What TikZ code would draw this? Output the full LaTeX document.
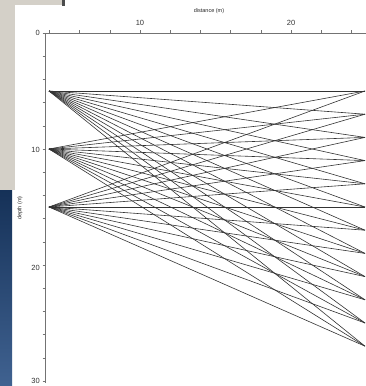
\documentclass[tikz,border=0pt]{standalone}
\usepackage{fontspec}
\setmainfont{Liberation Sans}
\begin{document}
\begin{tikzpicture}[x=1pt,y=-1pt,
  ray/.style={black!80,line width=0.6pt},
  axisline/.style={black!55,line width=0.9pt},
  tick/.style={black!55,line width=0.5pt},
  ticklbl/.style={font=\fontsize{7.5}{9}\selectfont,inner sep=1pt,text=black!80},
  axlbl/.style={font=\fontsize{5.5}{6}\selectfont,inner sep=0pt,text=black!85}]
\definecolor{wingray}{RGB}{212,208,200}
\definecolor{deskblue}{RGB}{30,70,125}
\useasboundingbox (0,0) rectangle (366,386);
\fill[white] (0,0) rectangle (366,386);
% window chrome / desktop fragments
\fill[wingray] (0,0) rectangle (62,5);
\fill[wingray] (0,0) rectangle (15,190);
\fill[black!70] (62,0) rectangle (65,6);
\shade[top color=deskblue!70!black,middle color=deskblue,bottom color=deskblue!85!white] (0,190) rectangle (12,386);
% axes
\coordinate (o) at (45,33);
\coordinate (xe) at (366,33);
\coordinate (ye) at (45,383);
\draw[axisline] (o) -- (xe);
\draw[axisline] (o) -- (ye);
\foreach \d in {4,6,...,24} \draw[tick] ({140+(\d-10)*15.1},33) -- ++(0,-3);
\foreach \d in {0,2,...,30} \draw[tick] (42.5,{33+\d*11.6}) -- (46,{33+\d*11.6});
\node[ticklbl] (x10) at (140,23) {10};
\node[ticklbl] (x20) at (291,23) {20};
\node[axlbl] (xl) at (209,11) {distance (m)};
\node[ticklbl,anchor=east] (y0) at (41,33) {0};
\node[ticklbl,anchor=east] (y10) at (41,150) {10};
\node[ticklbl,anchor=east] (y20) at (41,268) {20};
\node[ticklbl,anchor=east] (y30) at (41,381) {30};
\node[axlbl,rotate=90] (yl) at (20,208) {depth (m)};
% sources and receivers
\foreach \i/\d in {1/5,2/10,3/15} \coordinate (s\i) at (49,{33+\d*11.6});
\foreach \j in {1,...,12} \coordinate (r\j) at (365,{33+(3+2*\j)*11.6});
\foreach \i in {1,2,3}
  \foreach \j in {1,...,12}
    \draw[ray] (s\i) -- (r\j);
\end{tikzpicture}
\end{document}
